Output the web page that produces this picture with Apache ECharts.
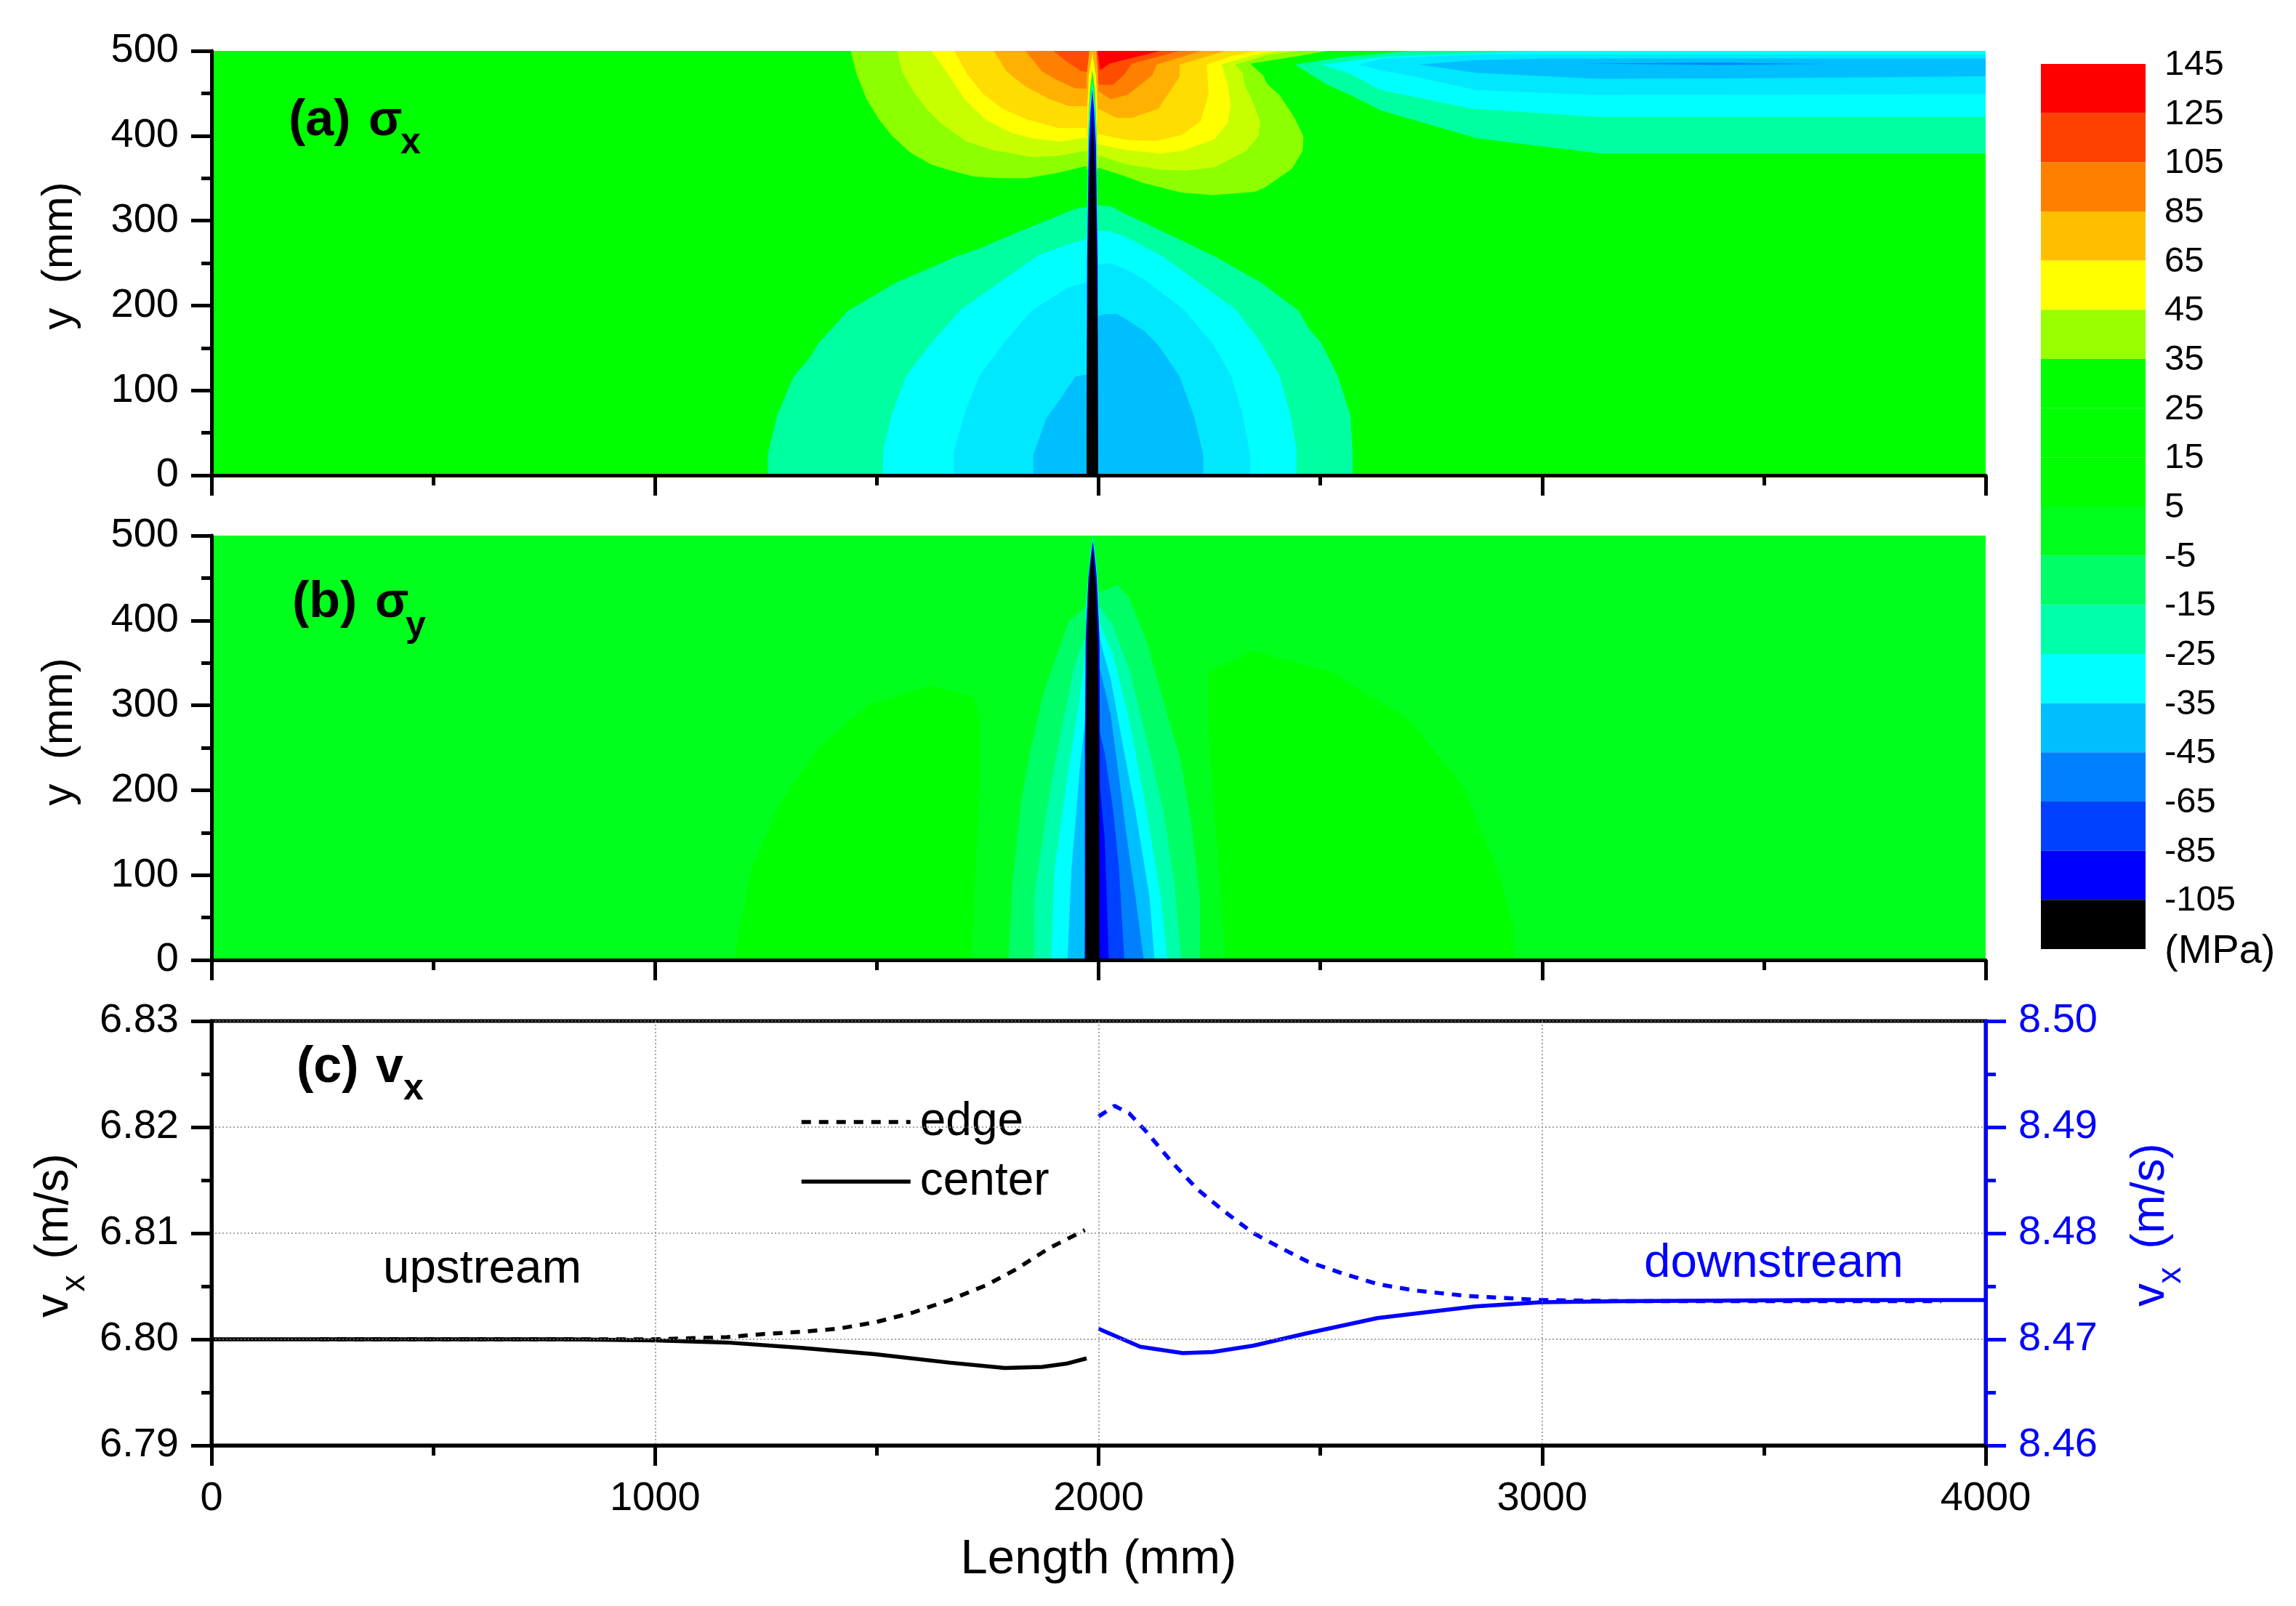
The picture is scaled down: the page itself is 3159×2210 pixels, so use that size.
<!DOCTYPE html>
<html>
<head>
<meta charset="utf-8">
<title>Stress and velocity along the length</title>
<script src="https://cdn.jsdelivr.net/npm/echarts@6/dist/echarts.min.js"></script>
<style>
html, body { margin: 0; padding: 0; background: #fff; }
#main { width: 3159px; height: 2210px; }
</style>
</head>
<body>
<div id="main"></div>
<script>
// contour bands, [length mm, y mm]
var fullPanel = [[0, 0], [4000, 0], [4000, 500], [0, 500]];

// (a) sigma x, downstream patch along the top edge
var sxDown1 = [[2443,484],[2512,461],[2572,447],[2636,430],[2852,397],[3132,379],[4000,379],[4000,500],[2704,500],[2550,493]];
var sxDown2 = [[2504,484],[2567,473],[2636,454],[2841,432],[3127,422],[4000,422],[4000,500],[2990,500],[2638,493]];
var sxDown3 = [[2589,484],[2633,477],[2682,473],[2852,454],[3121,448],[4000,449],[4000,496],[2858,496],[2638,491]];
var sxDown4 = [[2721,484],[2852,474],[3127,467],[3516,468],[4000,470],[4000,491],[3407,491],[3022,491],[2852,489]];
var sxDown5 = [[3088,485],[3400,486],[3640,484.5],[3400,483.5]];

// (a) sigma x, compression lobe at the bottom
var sxLow1 = [[1254,0],[1254,24],[1275,70],[1312,116],[1345,136],[1369,156],[1435,194],[1501,214],[1543,227],[1628,246],[1679,258],[1726,266],[1820,287],[1914,307],[1947,314],[1973,316],[1999,318],[2027,317],[2065,307],[2262,258],[2366,227],[2451,194],[2474,173],[2502,156],[2540,116],[2568,70],[2573,24],[2573,0]];
var sxLow2 = [[1513,0],[1515,31],[1534,72],[1566,117],[1623,156],[1689,195],[1773,226],[1867,260],[1943,274],[1973,278],[1999,288],[2027,287],[2056,282],[2145,258],[2225,227],[2310,195],[2366,156],[2408,117],[2432,72],[2446,31],[2446,0]];
var sxLow3 = [[1673,0],[1673,26],[1698,73],[1731,117],[1787,156],[1849,194],[1933,222],[1973,227],[1999,248],[2027,250],[2056,244],[2103,231],[2192,195],[2258,155],[2300,116],[2324,73],[2341,26],[2341,0]];
var sxLow4 = [[1853,0],[1853,24],[1882,67],[1914,90],[1947,116],[1973,119],[1999,187],[2013,190],[2041,190],[2065,183],[2103,170],[2135,153],[2182,117],[2215,70],[2236,24],[2236,0]];

// (a) sigma x, tension lobe at the top
var sxHigh1 = [[1441,500],[1454,473],[1477,443],[1505,419],[1534,400],[1576,380],[1623,366],[1660,360],[1717,352],[1773,350],[1839,350],[1905,356],[1971,364],[2002,362],[2056,353],[2103,344],[2187,333],[2258,330],[2352,334],[2375,339],[2436,361],[2460,382],[2462,399],[2441,422],[2408,448],[2380,461],[2371,471],[2342,485],[2452,494],[2517,500]];
var sxHigh2 = [[1546,500],[1557,476],[1581,453],[1613,431],[1646,414],[1703,393],[1764,383],[1849,375],[1905,376],[1971,382],[1999,377],[2065,366],[2140,360],[2197,359],[2262,363],[2333,382],[2361,400],[2364,417],[2347,441],[2328,461],[2326,473],[2308,484],[2380,495],[2452,500]];
var sxHigh3 = [[1623,500],[1660,473],[1698,443],[1745,419],[1802,404],[1849,397],[1914,393],[1971,398],[1999,390],[2065,383],[2140,379],[2187,382],[2262,396],[2291,415],[2298,436],[2291,461],[2277,484],[2340,494],[2402,500]];
var sxHigh4 = [[1675,500],[1703,473],[1740,449],[1783,432],[1839,419],[1910,409],[1971,409],[1999,402],[2065,395],[2131,394],[2187,401],[2230,417],[2248,449],[2244,484],[2300,494],[2358,500]];
var sxHigh5 = [[1764,500],[1792,476],[1835,458],[1886,444],[1933,435],[1976,435],[1999,432],[2041,421],[2074,421],[2135,432],[2159,451],[2183,470],[2183,484],[2287,500]];
var sxHigh6 = [[1835,500],[1872,476],[1905,466],[1947,456],[1976,455],[1999,453],[2027,443],[2065,448],[2121,471],[2131,484],[2232,500]];
var sxHigh7 = [[1898,500],[1929,487],[1961,476],[1976,475],[2001,460],[2033,460],[2058,472],[2075,485],[2183,500]];
var sxHigh8 = [[1998,500],[2003,477],[2025,485],[2140,500]];

// (a) the needle at length 1986
var sxNeedle1 = [[1979,500],[1995,500],[1999,470],[1999,400],[1973,400],[1973,470]];
var sxNeedle2 = [[1986,497],[1994,470],[1998,430],[1998,360],[1974,360],[1974,430],[1978,470]];
var sxNeedle3 = [[1986,478],[1992,450],[1996,400],[1998,300],[1974,300],[1976,400],[1980,450]];
var sxNeedle4 = [[1986,466],[1991,440],[1995,400],[1998.5,280],[1998.5,0],[1973.5,0],[1973.5,280],[1977,400],[1981,440]];
var sxNeedle5 = [[1986,455],[1990,430],[1994,390],[1998,250],[1999,0],[1973,0],[1974,250],[1978,390],[1982,430]];
var sxNeedle6 = [[1986,425],[1988.5,400],[1993,350],[1996,250],[1998,150],[1999,0],[1973,0],[1974,150],[1976,250],[1979,350],[1983.5,400]];

// (b) sigma y
var syLeft = [[1180,0],[1187,27],[1218,108],[1281,183],[1368,250],[1481,300],[1619,323],[1720,310],[1732,284],[1732,210],[1720,74],[1713,0]];
var syRight = [[2286,0],[2271,108],[2246,278],[2246,339],[2347,364],[2522,340],[2698,284],[2823,203],[2898,108],[2936,40],[2939,0]];
var syBand1 = [[1797,0],[1807,98],[1826,189],[1845,244],[1876,315],[1908,362],[1933,399],[1968,415],[2002,433],[2042,442],[2067,428],[2108,376],[2146,305],[2184,237],[2209,162],[2228,74],[2229,0]];
var syBand2 = [[1854,0],[1855,74],[1883,176],[1908,250],[1945,345],[1970,382],[2002,416],[2033,393],[2071,339],[2108,261],[2146,176],[2171,91],[2186,0]];
var syBand3 = [[1893,0],[1901,108],[1933,227],[1958,311],[1973,372],[2002,396],[2033,359],[2071,278],[2108,176],[2140,74],[2155,0]];
var syBand4 = [[1930,0],[1939,108],[1958,227],[1970,284],[2002,379],[2027,332],[2058,244],[2083,176],[2115,74],[2126,0]];
var syBand5 = [[1968,0],[1975,200],[2002,345],[2027,290],[2045,220],[2062,150],[2083,75],[2102,0]];
var syBand6 = [[1986,0],[1986,200],[2002,270],[2014,244],[2033,176],[2046,108],[2058,0]];
var syBand7 = [[1990,0],[1990,180],[2002,210],[2014,142],[2023,0]];
var syNeedle1 = [[1987,500],[1993,480],[2000,440],[2002,415],[1970,415],[1974,440],[1981,480]];
var syNeedle2 = [[1987,498],[1992,480],[1998,445],[2002,400],[1971,400],[1976,445],[1982,480]];
var syNeedle3 = [[1987,494],[1991,478],[1996,450],[2002,380],[2003,250],[2003,0],[1969,0],[1969,250],[1971,380],[1977,450],[1983,478]];
var syNeedle4 = [[1986,485],[1988,476],[1990,464],[1994,440],[1998,379],[2001,250],[2002,0],[1970,0],[1971,250],[1974,379],[1978,440],[1982,464],[1984,476]];

// (c) vx lines, [length mm, m/s]
var edgeUp = [[244,6.8],[500,6.8],[800,6.8],[1000,6.8],[1162,6.8002],[1245,6.8005],[1329,6.8007],[1413,6.801],[1496,6.8016],[1580,6.8025],[1664,6.8037],[1747,6.8051],[1814,6.8066],[1889,6.8086],[1969,6.8103]];
var centerUp = [[0,6.8],[400,6.8],[800,6.8],[1000,6.7999],[1162,6.7997],[1329,6.7992],[1496,6.7986],[1664,6.7978],[1789,6.7973],[1873,6.7974],[1927,6.7977],[1973,6.7982]];
var edgeDown = [[2000,8.491],[2036,8.492],[2069,8.4913],[2107,8.4896],[2165,8.4867],[2224,8.4841],[2282,8.4821],[2349,8.48],[2416,8.4785],[2473,8.4773],[2544,8.4763],[2629,8.4752],[2714,8.4746],[2828,8.4741],[2998,8.4737],[3183,8.4736],[3500,8.4736],[3900,8.4736]];
var centerDown = [[2000,8.471],[2094,8.4693],[2190,8.4687],[2257,8.4688],[2349,8.4694],[2473,8.4706],[2629,8.472],[2849,8.4731],[2998,8.4735],[3183,8.4736],[3609,8.4737],[4000,8.4737]];

// colour bar, top to bottom
var barTicks = ['145','125','105','85','65','45','35','25','15','5','-5','-15','-25','-35','-45','-65','-85','-105','(MPa)'];
var barColors = ['#ff0000','#ff4000','#ff8000','#ffbf00','#ffff00','#99ff00','#00ff00','#00ff00','#00ff00','#00ff1c','#00ff66','#00ffaa','#00ffff','#00bfff','#0080ff','#0040ff','#0000ff','#000000'];

var FONT = '"Liberation Sans", Arial, sans-serif';
var BLUE = '#0000ff';
var chart = echarts.init(document.getElementById('main'));

function polygon(points, color, gridIdx) {
    return {
        type: 'custom',
        coordinateSystem: 'cartesian2d',
        xAxisIndex: gridIdx,
        yAxisIndex: gridIdx,
        silent: true,
        animation: false,
        clip: true,
        data: points,
        encode: { x: 0, y: 1 },
        renderItem: function (params, api) {
            if (params.dataIndex !== 0) return null;
            return {
                type: 'polygon',
                shape: { points: points.map(function (p) { return api.coord(p); }) },
                style: { fill: color }
            };
        }
    };
}

function bands(list, gridIdx) {
    return list.map(function (b) { return polygon(b[0], b[1], gridIdx); });
}

function line(name, data, color, yIdx, dashed) {
    return {
        name: name,
        type: 'line',
        xAxisIndex: 2,
        yAxisIndex: yIdx,
        data: data,
        symbol: 'none',
        animation: false,
        silent: true,
        z: 5,
        lineStyle: { color: color, width: 5.5, type: dashed ? [13, 11] : 'solid' },
        itemStyle: { color: color }
    };
}

function xAxis(gridIdx, labels) {
    return {
        type: 'value',
        gridIndex: gridIdx,
        min: 0,
        max: 4000,
        interval: 1000,
        z: 10,
        axisLine: { show: true, onZero: false, lineStyle: { color: '#000', width: 5 } },
        axisTick: { show: true, length: 28, lineStyle: { color: '#000', width: 5 } },
        minorTick: { show: true, splitNumber: 2, length: 14, lineStyle: { color: '#000', width: 5 } },
        axisLabel: {
            show: labels, margin: 46, fontSize: 56, color: '#000', fontFamily: FONT,
            formatter: function (v) { return String(v); }
        },
        splitLine: { show: labels, lineStyle: { color: '#888', width: 1.5, type: [2, 3] } }
    };
}

function yAxis(gridIdx, min, max, step, color, side, grid, digits) {
    return {
        type: 'value',
        gridIndex: gridIdx,
        position: side,
        min: min,
        max: max,
        interval: step,
        z: 10,
        axisLine: { show: true, onZero: false, lineStyle: { color: color, width: 5 } },
        axisTick: { show: true, length: 28, lineStyle: { color: color, width: 5 } },
        minorTick: { show: true, splitNumber: 2, length: 14, lineStyle: { color: color, width: 5 } },
        axisLabel: {
            margin: 45, fontSize: 56, color: color, fontFamily: FONT,
            formatter: function (v) { return v.toFixed(digits); }
        },
        splitLine: { show: grid, lineStyle: { color: '#888', width: 1.5, type: [2, 3] } }
    };
}

function text(str, x, y, size, opts) {
    opts = opts || {};
    return {
        type: 'text',
        x: x,
        y: y,
        z: 20,
        rotation: opts.rotate ? Math.PI / 2 : 0,
        style: {
            text: str,
            fontSize: size,
            fontFamily: FONT,
            fontWeight: opts.bold ? 'bold' : 'normal',
            fill: opts.color || '#000',
            align: opts.rotate ? 'center' : 'left',
            verticalAlign: 'middle'
        }
    };
}

var series = [].concat(
    bands([
        [fullPanel, '#00ff00'],
        [sxDown1, '#00ffa0'], [sxDown2, '#00ffff'], [sxDown3, '#00e8ff'], [sxDown4, '#00bfff'], [sxDown5, '#0080ff'],
        [sxLow1, '#00ffa0'], [sxLow2, '#00ffff'], [sxLow3, '#00e8ff'], [sxLow4, '#00bfff'],
        [sxHigh1, '#8cff00'], [sxHigh2, '#c8ff00'], [sxHigh3, '#ffff00'], [sxHigh4, '#ffdd00'],
        [sxHigh5, '#ffb000'], [sxHigh6, '#ff8000'], [sxHigh7, '#ff4d00'], [sxHigh8, '#ff0000'],
        [sxNeedle1, '#ffb000'], [sxNeedle2, '#ffff00'], [sxNeedle3, '#00ff00'],
        [sxNeedle4, '#00ffff'], [sxNeedle5, '#0000ff'], [sxNeedle6, '#000000']
    ], 0),
    bands([
        [fullPanel, '#00ff1c'],
        [syLeft, '#00ff00'], [syRight, '#00ff00'],
        [syBand1, '#00ff66'], [syBand2, '#00ffaa'], [syBand3, '#00ffff'], [syBand4, '#00bfff'],
        [syBand5, '#0080ff'], [syBand6, '#0040ff'], [syBand7, '#0000ff'],
        [syNeedle1, '#00ff66'], [syNeedle2, '#00ffff'], [syNeedle3, '#0000ff'], [syNeedle4, '#000000']
    ], 1),
    [
        line('edge', edgeUp, '#000', 2, true),
        line('center', centerUp, '#000', 2, false),
        line('edge down', edgeDown, BLUE, 3, true),
        line('center down', centerDown, BLUE, 3, false),
        {
            type: 'custom',
            coordinateSystem: 'cartesian2d',
            xAxisIndex: 3,
            yAxisIndex: 4,
            silent: true,
            animation: false,
            data: barColors.map(function (c, i) { return [0, 17 - i]; }),
            encode: { x: 0, y: 1 },
            renderItem: function (params, api) {
                var a = api.coord([0, api.value(1)]);
                var b = api.coord([1, api.value(1) + 1]);
                return {
                    type: 'rect',
                    shape: { x: a[0], y: b[1], width: b[0] - a[0], height: a[1] - b[1] },
                    style: { fill: barColors[params.dataIndex] }
                };
            }
        }
    ]
);

var option = {
    backgroundColor: '#fff',
    animation: false,
    grid: [
        { left: 291, top: 70, width: 2441, height: 584 },
        { left: 291, top: 737, width: 2441, height: 584 },
        { left: 291, top: 1405, width: 2441, height: 584, show: true, borderColor: '#000', borderWidth: 5 },
        { left: 2808, top: 88, width: 144, height: 1218 }
    ],
    xAxis: [
        xAxis(0, false),
        xAxis(1, false),
        Object.assign(xAxis(2, true), {
            name: 'Length (mm)',
            nameLocation: 'middle',
            nameGap: 124,
            nameTextStyle: { fontSize: 67, color: '#000', fontFamily: FONT }
        }),
        { type: 'value', gridIndex: 3, min: 0, max: 1, show: false }
    ],
    yAxis: [
        yAxis(0, 0, 500, 100, '#000', 'left', false, 0),
        yAxis(1, 0, 500, 100, '#000', 'left', false, 0),
        yAxis(2, 6.79, 6.83, 0.01, '#000', 'left', true, 2),
        yAxis(2, 8.46, 8.50, 0.01, BLUE, 'right', false, 2),
        {
            type: 'value',
            gridIndex: 3,
            position: 'right',
            min: 0,
            max: 18,
            interval: 1,
            axisLine: { show: false },
            axisTick: { show: false },
            splitLine: { show: false },
            axisLabel: {
                margin: 26, fontSize: 49, color: '#000', fontFamily: FONT, padding: [3, 0, 0, 0],
                formatter: function (v) {
                    return v === 0 ? '{unit|' + barTicks[18] + '}' : barTicks[18 - v];
                },
                rich: { unit: { fontSize: 56, fontFamily: FONT, color: '#000', padding: [4, 0, 0, 0] } }
            }
        }
    ],
    legend: {
        data: ['edge', 'center'],
        orient: 'vertical',
        left: 1095,
        top: 1507,
        itemWidth: 150,
        itemHeight: 14,
        itemGap: 18,
        selectedMode: false,
        itemStyle: { opacity: 0 },
        lineStyle: { width: 5.5 },
        textStyle: { fontSize: 64, color: '#000', fontFamily: FONT, padding: [0, 0, 0, 8] }
    },
    graphic: [
        text('(a)', 397, 167, 70, { bold: true }),
        text('\u03c3', 507, 167, 68, { bold: true }),
        text('x', 551, 197, 50, { bold: true }),
        text('(b)', 402, 830, 70, { bold: true }),
        text('\u03c3', 516, 830, 68, { bold: true }),
        text('y', 558, 862, 50, { bold: true }),
        text('(c)', 408, 1470, 70, { bold: true }),
        text('v', 517, 1470, 68, { bold: true }),
        text('x', 555, 1499, 50, { bold: true }),
        text('y  (mm)', 82, 352, 60, { rotate: true }),
        text('y  (mm)', 82, 1007, 60, { rotate: true }),
        text('(m/s)', 75, 1660, 64, { rotate: true }),
        text('v', 75, 1797, 64, { rotate: true }),
        text('x', 103, 1766, 46, { rotate: true }),
        text('(m/s)', 2959, 1646, 64, { rotate: true, color: BLUE }),
        text('v', 2959, 1782, 64, { rotate: true, color: BLUE }),
        text('x', 2987, 1755, 46, { rotate: true, color: BLUE }),
        text('upstream', 527, 1747, 65.5),
        text('downstream', 2262, 1739, 65.5, { color: BLUE })
    ],
    series: series
};

chart.setOption(option);
</script>
</body>
</html>
